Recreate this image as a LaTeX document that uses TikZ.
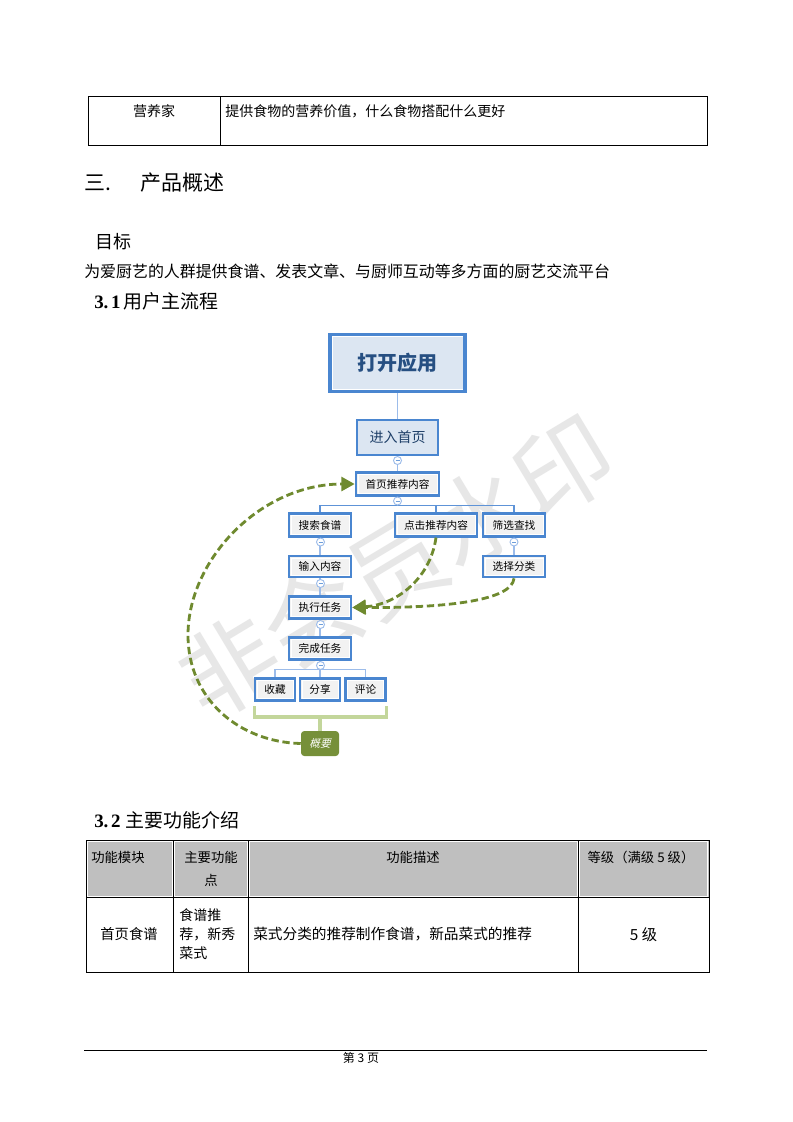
\documentclass[tikz,border=0pt]{standalone}
\usepackage{fontspec}
\setmainfont{Noto Sans CJK SC}
\newfontfamily\slantcjk[FakeSlant=0.25]{Noto Sans CJK SC}
\newfontfamily\serifdigits{Liberation Serif}
\usetikzlibrary{arrows.meta}
\newcommand{\fsz}[1]{\fontsize{#1}{#1}\selectfont}
\definecolor{boxblue}{HTML}{4A86D0}
\definecolor{linkblue}{HTML}{9CBCEA}
\definecolor{paleblue}{HTML}{DCE6F2}
\definecolor{boxgrey}{HTML}{F2F2F2}
\definecolor{titleblue}{HTML}{264F82}
\definecolor{flowgreen}{HTML}{6F8A2F}
\definecolor{bracegreen}{HTML}{C3D69B}
\definecolor{markgrey}{HTML}{E7E7E7}
\definecolor{headgrey}{HTML}{BFBFBF}
\tikzset{
  x=.75pt, y=-.75pt,
  rim/.style={path picture={\draw[white,line width=#1]
     ([shift={(2,-2)}]path picture bounding box.south west) rectangle
     ([shift={(-2,2)}]path picture bounding box.north east);}},
  flow/.style={draw=boxblue,line width=2pt,fill=boxgrey,rim=.5pt,inner sep=0pt,font=\fsz{8}},
  pale/.style={draw=boxblue,fill=paleblue,inner sep=0pt},
  fold/.style={circle,draw=linkblue,fill=white,line width=.7pt,minimum size=6pt,inner sep=0pt,
     label={[inner sep=0pt]center:\tikz\draw[boxblue!80!white,line width=.45pt](0,0)--(4,0);}},
  link/.style={draw=linkblue,line width=1.1pt},
  treebar/.style={draw=boxblue!75!linkblue,line width=.8pt},
  dashflow/.style={draw=flowgreen,line width=2.1pt,dash pattern=on 5.5pt off 2.8pt},
  headarrow/.style={-{Triangle[length=10pt,width=10.5pt,fill=flowgreen]}},
  plain/.style={inner sep=0pt,font=\fsz{10.5}},
  rule/.style={line width=.8pt,draw=black},
}
\begin{document}
\begin{tikzpicture}
\useasboundingbox (0,0) rectangle (793,1122);
\fill[white] (0,0) rectangle (793,1122);

% watermark
\node[rotate=31,text=markgrey,inner sep=0pt,font=\fsz{73}] (mark) at (396,567) {非会员水印};

% first table
\draw[rule] (88.5,96.5) rectangle (707.5,145.5);
\draw[rule] (220.5,96.5) -- (220.5,145.5);
\node[plain] (t1a) at (154,111) {营养家};
\node[plain,anchor=west] (t1b) at (225,111) {提供食物的营养价值，什么食物搭配什么更好};

% headings
\node[plain,anchor=west,font=\fsz{15.75}] (h3a) at (84,183) {三.};
\node[plain,anchor=west,font=\fsz{15.75}] (h3b) at (140,183) {产品概述};
\node[plain,anchor=west,font=\fsz{13.5}] (goal) at (95,242) {目标};
\node[plain,anchor=west,font=\fsz{11.95}] (goaltext) at (84,271) {为爱厨艺的人群提供食谱、发表文章、与厨师互动等多方面的厨艺交流平台};
\node[plain,anchor=west,font=\fsz{14.2}] (h31) at (94,301) {{\serifdigits\bfseries 3.\kern2pt 1}\kern2.5pt 用户主流程};
\node[plain,anchor=west,font=\fsz{14.2}] (h32) at (94,820) {{\serifdigits\bfseries 3.\kern2pt 2}\kern4pt 主要功能介绍};

% nodes of the flow
\node[pale,line width=2.6pt,rim=.6pt,minimum width=135pt*.75,minimum height=57pt*.75,text=titleblue,font=\fsz{15}\bfseries] (open) at (397.5,363) {打开应用};
\node[pale,line width=1.3pt,minimum width=81pt*.75,minimum height=35pt*.75,text=titleblue!80!black,font=\fsz{10.5}] (enter) at (397.5,437.5) {进入首页};
\node[flow,minimum width=83pt*.75,minimum height=22.5pt*.75] (rec) at (397.5,484) {首页推荐内容};
\node[flow,minimum width=62pt*.75,minimum height=22.5pt*.75] (search) at (320,525) {搜索食谱};
\node[flow,minimum width=82pt*.75,minimum height=22.5pt*.75] (click) at (436,525) {点击推荐内容};
\node[flow,minimum width=62pt*.75,minimum height=22.5pt*.75] (filter) at (514,525) {筛选查找};
\node[flow,minimum width=62pt*.75,minimum height=21pt*.75] (input) at (320,566.5) {输入内容};
\node[flow,minimum width=62pt*.75,minimum height=21pt*.75] (choose) at (514,566.5) {选择分类};
\node[flow,minimum width=62pt*.75,minimum height=21.5pt*.75] (exec) at (320,607.5) {执行任务};
\node[flow,minimum width=62pt*.75,minimum height=21.5pt*.75] (done) at (320,648.5) {完成任务};
\node[flow,minimum width=40pt*.75,minimum height=21.5pt*.75] (fav) at (275,689.5) {收藏};
\node[flow,minimum width=40pt*.75,minimum height=21.5pt*.75] (share) at (320,689.5) {分享};
\node[flow,minimum width=40pt*.75,minimum height=21.5pt*.75] (comment) at (365.5,689.5) {评论};
\node[fill=flowgreen!95!white,rounded corners=2.5pt,minimum width=38pt*.75,minimum height=25pt*.75,inner sep=0pt,text=white,font=\slantcjk\fsz{8}] (summary) at (320,743.5) {概要};

% tree links
\path[link] (open.south) -- (enter.north);
\path[link] (enter.south) -- (rec.north);
\path[link] (rec.south) -- ++(0,9) coordinate (recbar);
\path[treebar] (recbar) -| (search.north);
\path[treebar] (recbar) -| (click.north);
\path[treebar] (recbar) -| (filter.north);
\path[link] (search.south) -- (input.north);
\path[link] (input.south) -- (exec.north);
\path[link] (exec.south) -- (done.north);
\path[link] (filter.south) -- (choose.north);
\path[link] (done.south) -- ++(0,9) coordinate (donebar);
\path[link] (donebar) -| (fav.north);
\path[link] (donebar) -| (share.north);
\path[link] (donebar) -| (comment.north);

% fold markers
\node[fold] (f1) at (397.5,460.5) {};
\node[fold] (f2) at (397.5,501) {};
\node[fold] (f3) at (320.5,542) {};
\node[fold] (f4) at (514,542) {};
\node[fold] (f5) at (320.5,583.5) {};
\node[fold] (f6) at (320.5,624.5) {};
\node[fold] (f7) at (320.5,665.5) {};

% summary bracket
\draw[bracegreen,line width=2.7pt] (254.5,706) |- (386.5,717) -- (386.5,706);
\draw[bracegreen,line width=2.7pt] (320,717) -- (summary.north);

% dashed flows
\draw[dashflow,headarrow] (summary.west) .. controls (240,742) and (188,700) .. (188,635)
   .. controls (188,560) and (260,484) .. (rec.west);
\draw[dashflow,headarrow] (click.south) .. controls (430,580) and (395,605) .. (exec.east);
\draw[dashflow,headarrow] (choose.south) .. controls (512,600) and (450,608) .. (exec.east);

% second table
\fill[headgrey] (86,840) rectangle (709,897);
\draw[white,line width=.7pt] (87.5,841.5) rectangle (172,896);
\draw[white,line width=.7pt] (174.5,841.5) rectangle (247,896);
\draw[white,line width=.7pt] (249.5,841.5) rectangle (577,896);
\draw[white,line width=.7pt] (579.5,841.5) rectangle (707.5,896);
\draw[rule] (86.5,840.5) rectangle (709.5,972.5);
\draw[rule] (86.5,897.5) -- (709.5,897.5);
\draw[rule] (173.5,840.5) -- (173.5,972.5);
\draw[rule] (248.5,840.5) -- (248.5,972.5);
\draw[rule] (578.5,840.5) -- (578.5,972.5);
\node[plain,anchor=west,font=\fsz{10}] (c1) at (91,857) {功能模块};
\node[plain,font=\fsz{10}] (c2) at (211,857) {主要功能};
\node[plain,font=\fsz{10}] (c2b) at (211,880) {点};
\node[plain,font=\fsz{10}] (c3) at (413,857) {功能描述};
\node[plain,font=\fsz{10}] (c4) at (641,857) {等级（满级 5 级）};
\node[plain,font=\fsz{10.7}] (d1) at (129,934) {首页食谱};
\node[plain,anchor=west] (d2a) at (179,915) {食谱推};
\node[plain,anchor=west] (d2b) at (179,934) {荐，新秀};
\node[plain,anchor=west] (d2c) at (179,953) {菜式};
\node[plain,anchor=west,font=\fsz{11}] (d3) at (253,934) {菜式分类的推荐制作食谱，新品菜式的推荐};
\node[plain,font=\fsz{11.5}] (d4) at (643.5,935) {5 级};

% footer
\draw[rule] (84,1050.5) -- (707,1050.5);
\node[plain,font=\fsz{9}] (page) at (361,1058) {第 3 页};
\end{tikzpicture}
\end{document}
